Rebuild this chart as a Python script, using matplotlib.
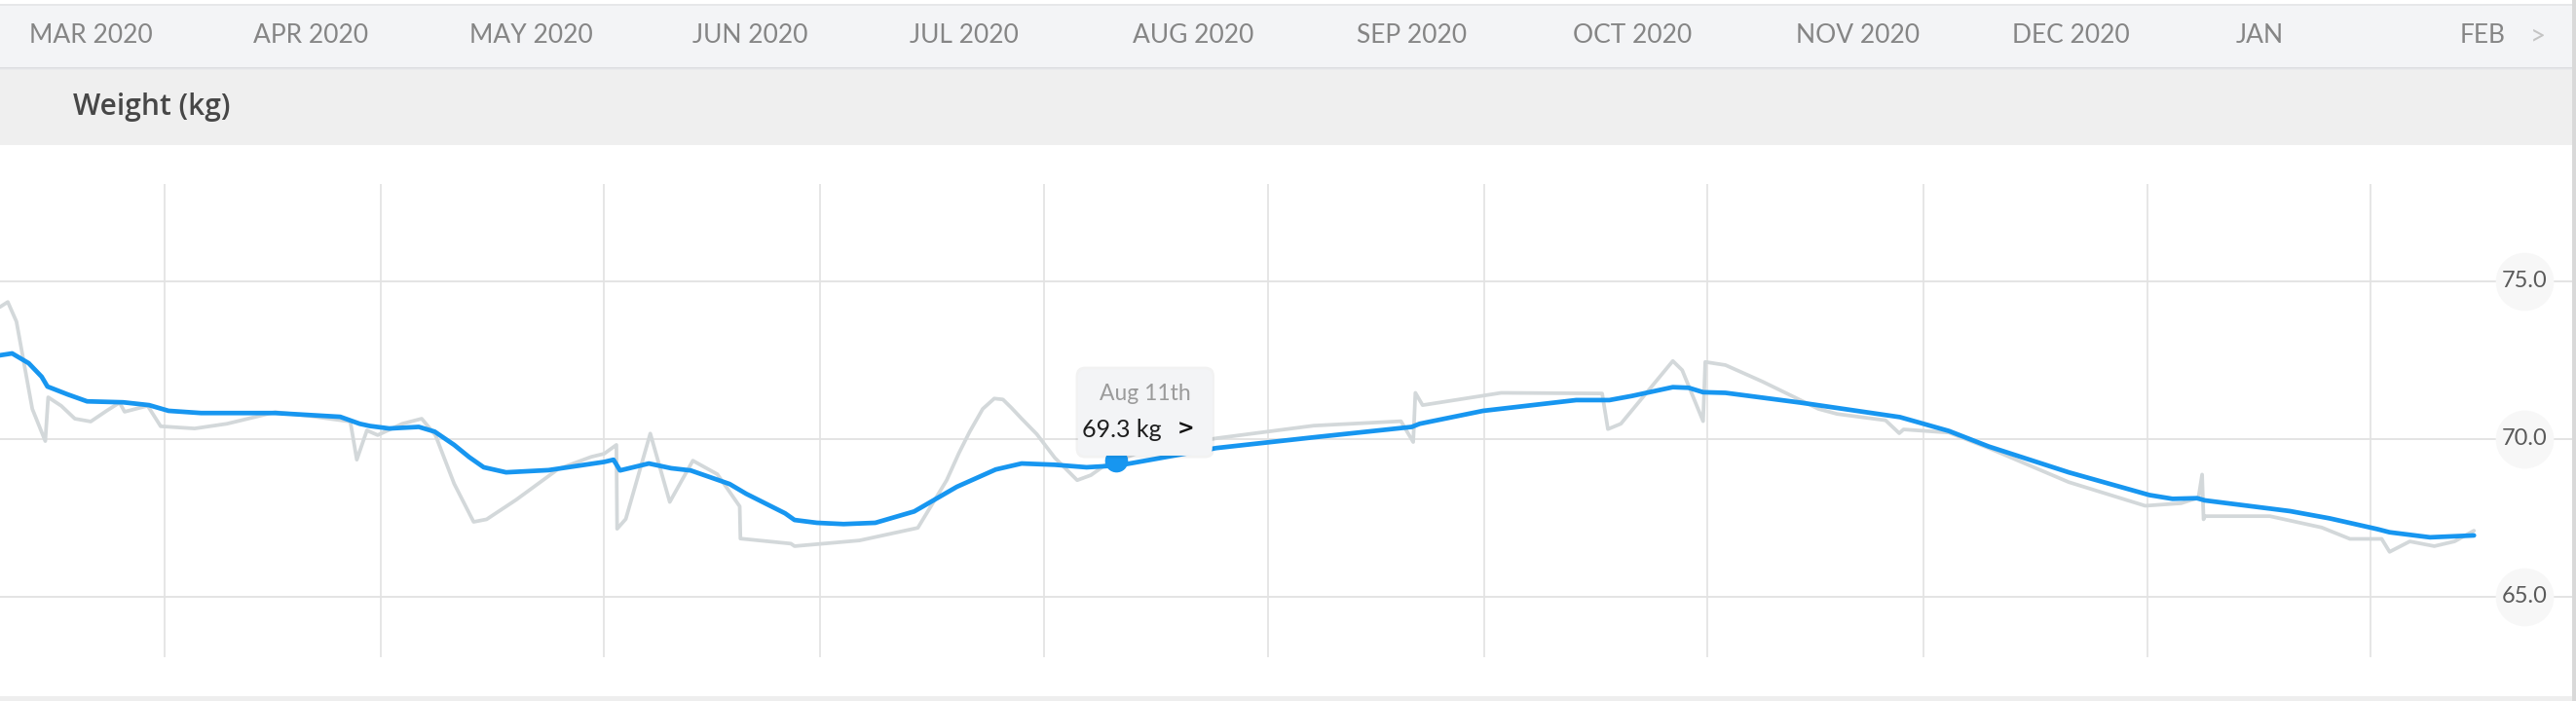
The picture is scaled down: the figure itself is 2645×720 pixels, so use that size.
import matplotlib.pyplot as plt
from matplotlib.patches import Rectangle, FancyBboxPatch
import matplotlib.dates as mdates
import pandas as pd


# days counted from 1 Apr 2020
trend_days = [-22.8, -21.1, -18.8, -17.0, -16.2, -13.4, -10.7, -5.7, -2.1, 0.6,
              5.1, 15.4, 24.4, 27.1, 28.5, 31.2, 35.3, 37.5, 40.2, 42.3, 44.3, 47.4,
              53.3, 61.0, 62.3, 63.2, 67.2, 70.3, 73.0, 78.4, 80.7, 86.1, 87.4,
              90.5, 94.2, 98.6, 104.0, 109.9, 115.3, 118.9, 123.5, 127.9, 132.4,
              145.9, 159.4, 173.0, 174.1, 182.9, 195.8, 200.4, 203.5, 209.2, 211.4,
              213.4, 216.5, 226.9, 240.7, 247.5, 253.0, 264.1, 275.3, 278.5,
              281.9, 283.0, 294.8, 300.3, 306.9, 308.6, 314.2, 320.3]
trend_kg = [72.65, 72.71, 72.40, 71.97, 71.66, 71.41, 71.19, 71.16, 71.07, 70.89,
            70.82, 70.82, 70.70, 70.48, 70.41, 70.33, 70.38, 70.23, 69.81, 69.42,
            69.10, 68.94, 69.01, 69.27, 69.34, 69.00, 69.22, 69.07, 69.00, 68.57,
            68.26, 67.64, 67.43, 67.34, 67.30, 67.34, 67.70, 68.48, 69.03, 69.22,
            69.18, 69.10, 69.16, 69.71, 70.05, 70.38, 70.48, 70.89, 71.23, 71.23,
            71.36, 71.64, 71.62, 71.48, 71.46, 71.15, 70.69, 70.25, 69.76, 68.94,
            68.22, 68.10, 68.12, 68.05, 67.71, 67.48, 67.14, 67.04, 66.88, 66.94]

raw_days = [-22.8, -21.7, -20.5, -18.3, -16.5, -16.1, -14.3, -12.4, -10.2, -8.0,
            -6.2, -5.5, -2.3, -0.5, 4.2, 8.7, 15.4, 20.0, 25.8, 26.7, 28.1, 29.6,
            33.0, 35.7, 37.6, 40.2, 42.9, 44.7, 48.8, 54.6, 59.2, 61.0, 62.7,
            62.8, 64.0, 67.4, 70.1, 73.3, 76.7, 79.8, 79.9, 86.9, 87.4, 96.4,
            104.5, 108.5, 110.2, 111.7, 113.5, 115.1, 116.3, 117.5, 118.9, 121.0,
            123.5, 126.6, 128.5, 130.6, 135.0, 145.9, 159.4, 171.5, 173.2, 173.5,
            174.5, 185.4, 199.4, 200.2, 202.0, 209.2, 210.5, 213.4, 213.7, 216.5,
            221.6, 229.4, 232.0, 238.7, 240.6, 241.2, 247.5, 253.0, 264.1, 274.7,
            279.7, 282.1, 282.6, 282.8, 283.0, 292.0, 299.2, 303.1, 307.5, 308.6,
            311.4, 314.8, 317.6, 320.3]
raw_kg = [74.18, 74.34, 73.72, 70.95, 69.93, 71.32, 71.05, 70.64, 70.55, 70.89,
          71.15, 70.86, 71.05, 70.40, 70.33, 70.48, 70.85, 70.73, 70.55, 69.34,
          70.27, 70.12, 70.48, 70.64, 70.12, 68.58, 67.37, 67.45, 68.07, 69.04,
          69.43, 69.53, 69.81, 67.15, 67.46, 70.17, 68.00, 69.31, 68.88, 67.86,
          66.84, 66.68, 66.60, 66.78, 67.18, 68.69, 69.55, 70.23, 70.95, 71.28,
          71.25, 70.98, 70.64, 70.15, 69.40, 68.69, 68.85, 69.19, 69.55, 70.02,
          70.42, 70.56, 69.90, 71.46, 71.07, 71.46, 71.44, 70.31, 70.48, 72.47,
          72.18, 70.56, 72.44, 72.34, 71.82, 70.95, 70.79, 70.59, 70.18, 70.30,
          70.20, 69.71, 68.63, 67.88, 67.96, 68.14, 68.87, 67.45, 67.55, 67.55,
          67.19, 66.83, 66.83, 66.42, 66.75, 66.60, 66.75, 67.09]

y_ticks = [65.0, 70.0, 75.0]
month_labels = ["MAR 2020", "APR 2020", "MAY 2020", "JUN 2020", "JUL 2020",
                "AUG 2020", "SEP 2020", "OCT 2020", "NOV 2020", "DEC 2020",
                "JAN", "FEB"]
month_starts = pd.date_range("2020-03-01", "2021-02-01", freq="MS")

tooltip_date = pd.Timestamp("2020-08-11")
tooltip_kg = 69.3

base = pd.Timestamp("2020-04-01")
trend_x = base + pd.to_timedelta(trend_days, unit="D")
raw_x = base + pd.to_timedelta(raw_days, unit="D")

W, H = 2645, 720
fig = plt.figure(figsize=(W / 100, H / 100), dpi=100)
fig.patch.set_facecolor("white")

x_left = base - pd.Timedelta(days=22.78)
x_right = base + pd.Timedelta(days=334.45)

#main chart
ax = fig.add_axes([0, 1 - 675 / H, 1, (675 - 189) / H])
ax.set_xlim(x_left, x_right)
ax.set_ylim(63.08, 78.08)
for s in ax.spines.values():
    s.set_visible(False)
ax.set_xticks(month_starts[1:])
ax.set_yticks([])
ax.tick_params(length=0, labelbottom=False)
ax.grid(axis="x", color="#e2e2e2", lw=1.2, zorder=0)
for t in y_ticks:
    ax.axhline(t, color="#e2e2e2", lw=1.3, zorder=0)

ax.plot(raw_x, raw_kg, color="#d3d8da", lw=2.7, zorder=2,
        solid_joinstyle="round", solid_capstyle="round")
ax.plot(trend_x, trend_kg, color="#1796f0", lw=3.4, zorder=3,
        solid_joinstyle="round", solid_capstyle="round")

#y labels on circles
label_x = base + pd.Timedelta(days=327.3)
for t in y_ticks:
    ax.scatter([label_x], [t], s=1850, color="#f7f7f7", zorder=4, linewidths=0)
    ax.text(label_x, t, f"{t:.1f}", ha="center", va="center", fontsize=17,
            family="Lato", weight="normal", color="#5a5a5a", zorder=5)

#tooltip
ax.plot([tooltip_date], [tooltip_kg], "o", ms=16, color="#1796f0", zorder=6)
tx = mdates.date2num(tooltip_date)
box_x, box_w = tx - 5.3, 18.64
box_y, box_h = tooltip_kg + 0.17, 2.74
shadow = FancyBboxPatch((box_x - 0.3, box_y - 0.08), box_w + 0.6, box_h + 0.16,
                        boxstyle="round,pad=0,rounding_size=1.3", mutation_aspect=0.2286,
                        fc="#000000", ec="none", alpha=0.05, zorder=7)
ax.add_patch(shadow)
box = FancyBboxPatch((box_x, box_y), box_w, box_h,
                     boxstyle="round,pad=0,rounding_size=1.08", mutation_aspect=0.2286,
                     fc="#f3f4f6", ec="none", zorder=8)
ax.add_patch(box)
ax.text(tx + 4.0, box_y + box_h - 0.77, tooltip_date.strftime("%b ") + "11th",
        ha="center", va="center", fontsize=16.5, family="Lato", color="#9b9b9b", zorder=9)
ax.text(box_x + 0.55, box_y + 0.83, f"{tooltip_kg} kg", ha="left", va="center",
        fontsize=18, family="Lato", color="#1e1e1e", zorder=9)
ax.text(box_x + 15.0, box_y + 0.83, ">", ha="center", va="center",
        fontsize=15, family="DejaVu Sans", weight="bold", color="#111111", zorder=9)

#month header
hd = fig.add_axes([0, 1 - 69 / H, 1, 64 / H])
hd.set_xlim(x_left, x_right)
hd.set_ylim(0, 1)
hd.set_facecolor("#f3f4f6")
hd.set_xticks([])
hd.set_yticks([])
for s in hd.spines.values():
    s.set_visible(False)
for i in range(len(month_labels)):
    hd.text(month_starts[i] + pd.Timedelta(days=12.3), 0.5, month_labels[i],
            ha="left", va="center", fontsize=19, family="Lato", weight="normal",
            color="#858585")
hd.text(x_left + pd.Timedelta(days=(2606 / 7.404)), 0.5, ">", ha="center",
        va="center", fontsize=20, family="Lato", weight="normal", color="#c4c4c4")

#shadow lines round header
fig.add_artist(Rectangle((0, 1 - 6 / H), 1, 2 / H, transform=fig.transFigure,
                         fc="#e6e7e9", ec="none"))
for k, c in enumerate(["#dcdde0", "#e4e5e7", "#eaebed"]):
    fig.add_artist(Rectangle((0, 1 - (70 + k) / H), 1, 1 / H, transform=fig.transFigure,
                             fc=c, ec="none"))

#title band
fig.add_artist(Rectangle((0, 1 - 149 / H), 1, 77 / H, transform=fig.transFigure,
                         fc="#efefef", ec="none", zorder=-1))
fig.text(75 / W, 1 - 110 / H, "Weight (kg)", ha="left", va="center", fontsize=21.5,
         family="Open Sans", weight="semibold", color="#474747")

#borders
fig.add_artist(Rectangle((2641 / W, 0), 4 / W, 1, transform=fig.transFigure,
                         fc="#d9d9d9", ec="none"))
fig.add_artist(Rectangle((0, 0), 2641 / W, 5 / H, transform=fig.transFigure,
                         fc="#eeeeee", ec="none"))

fig.savefig("out.png", dpi=100)
